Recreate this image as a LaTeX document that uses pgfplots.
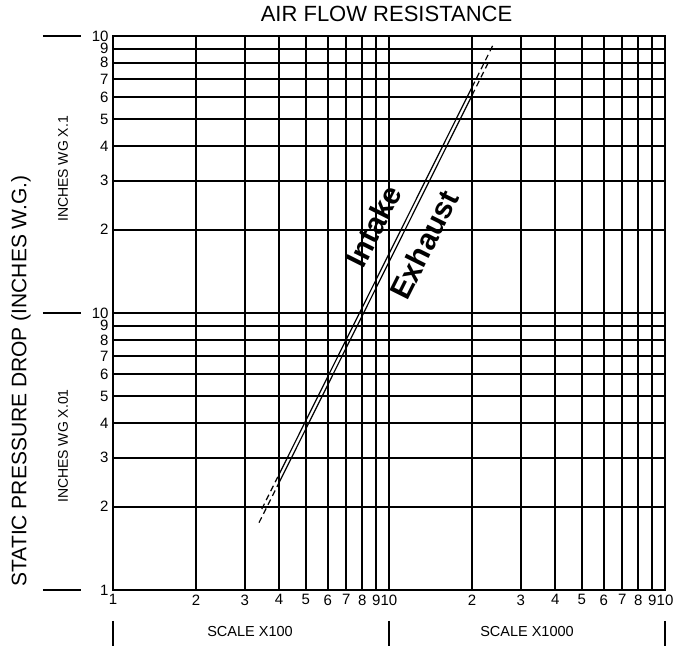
\documentclass[border=0pt]{standalone}
\usepackage{fontspec}
\setmainfont{Liberation Sans}
\usepackage{pgfplots}
\pgfplotsset{compat=1.18}
\begin{document}
\begin{tikzpicture}
\begin{axis}[
  at={(0,0)}, anchor=south west,
  scale only axis, width=552pt, height=554pt,
  xmode=log, ymode=log,
  xmin=1, xmax=100, ymin=1, ymax=100,
  xtick={1,2,3,4,5,6,7,8,9,10,20,30,40,50,60,70,80,90,100},
  xticklabels={1,2,3,4,5,6,7,8,9,10,2,3,4,5,6,7,8,9,10},
  ytick={1,2,3,4,5,6,7,8,9,10,20,30,40,50,60,70,80,90,100},
  yticklabels={1,2,3,4,5,6,7,8,9,10,2,3,4,5,6,7,8,9,10},
  grid=major,
  major grid style={black, line width=2pt},
  axis line style={black, line width=2pt},
  tick style={draw=none},
  ticklabel style={font=\fontsize{15}{15}\selectfont},
  xticklabel style={yshift=-1pt},
  yticklabel style={xshift=-1pt},
]
% Intake
\addplot[black, line width=1.2pt, dash pattern=on 6pt off 4pt] coordinates {(3.46,1.96) (4,2.62)};
\addplot[black, line width=1.2pt] coordinates {(4,2.62) (20,65.4)};
\addplot[black, line width=1.2pt, dash pattern=on 6pt off 4pt] coordinates {(20,65.4) (23.9,93.4)};
% Exhaust
\addplot[black, line width=1.2pt, dash pattern=on 6pt off 4pt] coordinates {(3.38,1.75) (4,2.445)};
\addplot[black, line width=1.2pt] coordinates {(4,2.445) (20,61.1)};
\addplot[black, line width=1.2pt, dash pattern=on 6pt off 4pt] coordinates {(20,61.1) (22.95,80.5)};
\node[rotate=63.4, font=\bfseries\fontsize{30}{30}\selectfont] at (axis cs:8.8,20.6) {Intake};
\node[rotate=63.4, font=\bfseries\fontsize{30}{30}\selectfont] at (axis cs:13.4,17.6) {Exhaust};
\end{axis}
% title and labels
\node[font=\fontsize{22}{22}\selectfont] at (273.5pt,576pt) {AIR FLOW RESISTANCE};
\node[rotate=90, font=\fontsize{21}{21}\selectfont] at (-92pt,209pt) {STATIC PRESSURE DROP (INCHES W.G.)};
\node[rotate=90, font=\fontsize{14}{14}\selectfont] at (-50pt,421pt) {INCHES WG X.1};
\node[rotate=90, font=\fontsize{14}{14}\selectfont] at (-50pt,144pt) {INCHES WG X.01};
\node[font=\fontsize{14.5}{14.5}\selectfont] at (137pt,-42pt) {SCALE X100};
\node[font=\fontsize{14.5}{14.5}\selectfont] at (414pt,-42pt) {SCALE X1000};
% decorations
\draw[black, line width=2pt] (-70pt,0pt) -- (-32pt,0pt);
\draw[black, line width=2pt] (-70pt,277pt) -- (-32pt,277pt);
\draw[black, line width=2pt] (-70pt,554pt) -- (-32pt,554pt);
\draw[black, line width=2pt] (0pt,-31pt) -- (0pt,-56pt);
\draw[black, line width=2pt] (276pt,-31pt) -- (276pt,-56pt);
\draw[black, line width=2pt] (552pt,-31pt) -- (552pt,-56pt);
\path (-113pt,-57pt) rectangle (575pt,590pt);
\end{tikzpicture}
\end{document}
